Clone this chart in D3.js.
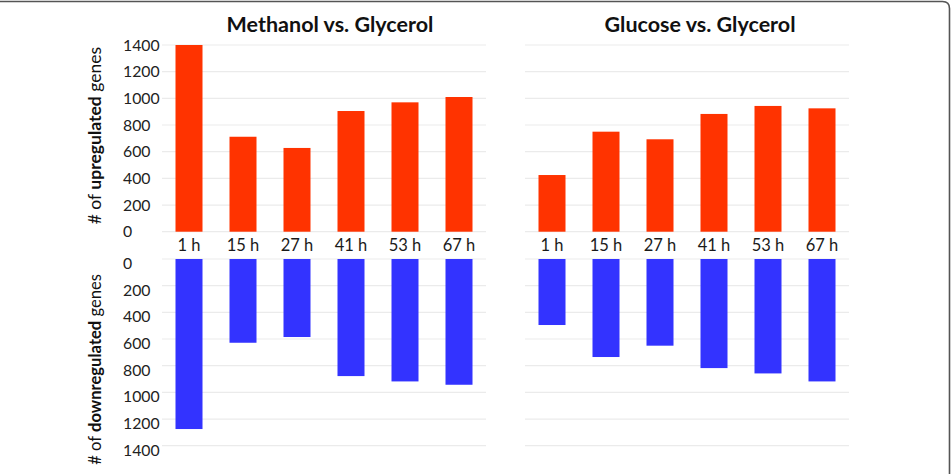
<!DOCTYPE html>
<html>
<head>
<meta charset="utf-8">
<script src="https://cdn.jsdelivr.net/npm/d3@7"></script>
<style>
  html, body { margin: 0; padding: 0; background: #fff; }
  svg { display: block; }
  text { font-family: Lato, "Open Sans", sans-serif; }
</style>
</head>
<body>
<svg id="chart" width="951" height="474"></svg>
<script>
const timeLabels = ["1 h", "15 h", "27 h", "41 h", "53 h", "67 h"];
const methanolUp = [1400, 712, 628, 905, 970, 1010];
const methanolDown = [1275, 628, 585, 878, 918, 943];
const glucoseUp = [425, 750, 693, 883, 943, 925];
const glucoseDown = [495, 735, 650, 818, 858, 918];
const yTicks = [0, 200, 400, 600, 800, 1000, 1200, 1400];
const panelTitles = ["Methanol vs. Glycerol", "Glucose vs. Glycerol"];

const svg = d3.select("#chart");
const W = 951, H = 474;

// frame border (top + right, rounded corner)
const r = 7;
svg.append("path")
  .attr("d", `M0,1.5 H${W - 1.5 - r} Q${W - 1.5},1.5 ${W - 1.5},${1.5 + r} V${H}`)
  .attr("fill", "none").attr("stroke", "#555").attr("stroke-width", 1.6);

const yUp = d3.scaleLinear().domain([0, 1400]).range([231.7, 45]);
const yDown = d3.scaleLinear().domain([0, 1400]).range([259, 445.7]);

const panels = [
  { title: panelTitles[0], up: methanolUp, down: methanolDown, range: [162, 486], ticks: true, titleX: 330 },
  { title: panelTitles[1], up: glucoseUp, down: glucoseDown, range: [525, 849], ticks: false, titleX: 700 }
];

const red = "#ff3300", blue = "#3333ff";

panels.forEach(p => {
  const x = d3.scaleBand().domain(timeLabels).range(p.range)
    .paddingInner(0.5).paddingOuter(0.25);
  const g = svg.append("g");

  // gridlines
  g.selectAll(".gu").data(yTicks).enter().append("line")
    .attr("x1", p.range[0]).attr("x2", p.range[1])
    .attr("y1", d => yUp(d)).attr("y2", d => yUp(d))
    .attr("stroke", "#ebebeb").attr("stroke-width", 1.2);
  g.selectAll(".gd").data(yTicks).enter().append("line")
    .attr("x1", p.range[0]).attr("x2", p.range[1])
    .attr("y1", d => yDown(d)).attr("y2", d => yDown(d))
    .attr("stroke", "#ebebeb").attr("stroke-width", 1.2);

  // bars
  g.selectAll(".bu").data(p.up).enter().append("rect")
    .attr("x", (d, i) => x(timeLabels[i])).attr("width", x.bandwidth())
    .attr("y", d => yUp(d)).attr("height", d => yUp(0) - yUp(d))
    .attr("fill", red);
  g.selectAll(".bd").data(p.down).enter().append("rect")
    .attr("x", (d, i) => x(timeLabels[i])).attr("width", x.bandwidth())
    .attr("y", yDown(0)).attr("height", d => yDown(d) - yDown(0))
    .attr("fill", blue);

  // category labels
  g.selectAll(".xl").data(timeLabels).enter().append("text")
    .attr("x", d => x(d) + x.bandwidth() / 2).attr("y", 251)
    .attr("text-anchor", "middle").attr("font-size", 16.5).attr("fill", "#1a1a1a")
    .text(d => d);

  // title
  svg.append("text")
    .attr("x", p.titleX).attr("y", 32)
    .attr("text-anchor", "middle").attr("font-size", 21.5).attr("font-weight", "bold")
    .attr("fill", "#111").text(p.title);

  if (p.ticks) {
    svg.selectAll(".tu").data(yTicks).enter().append("text")
      .attr("x", 123).attr("y", d => yUp(d) + 5.5)
      .attr("font-size", 15.8).attr("fill", "#222").text(d => d);
    svg.selectAll(".td").data(yTicks).enter().append("text")
      .attr("x", 123).attr("y", d => yDown(d) + 10)
      .attr("font-size", 15.8).attr("fill", "#222").text(d => d);
  }
});

// y axis titles
function yTitle(yEnd, boldWord, size) {
  const t = svg.append("text")
    .attr("transform", `translate(101,${yEnd}) rotate(-90)`)
    .attr("text-anchor", "end").attr("font-size", size).attr("fill", "#111");
  t.append("tspan").text("# of ");
  t.append("tspan").attr("font-weight", "bold").text(boldWord);
  t.append("tspan").text(" genes");
}
yTitle(47, "upregulated", 17.5);
yTitle(274, "downregulated", 16.6);
</script>
</body>
</html>
